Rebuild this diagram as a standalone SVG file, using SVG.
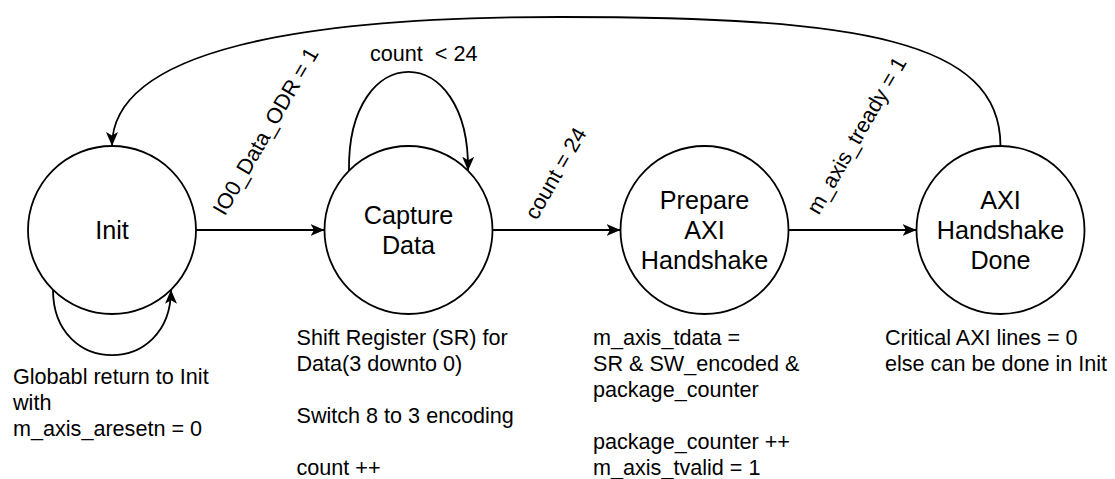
<svg xmlns="http://www.w3.org/2000/svg" width="1115" height="479" viewBox="0 0 1115 479">
<defs>
<marker id="arrow" markerUnits="userSpaceOnUse" markerWidth="16" markerHeight="14" refX="14" refY="6.5" orient="auto" viewBox="0 0 16 14">
<path d="M0,0.5 L14,6.5 L0,12.5 L3.5,6.5 Z" fill="#000"/>
</marker>
<style>
.state{fill:#fff;stroke:#000;stroke-width:1.8}
.st{font-family:"Liberation Sans",Arial,Helvetica,sans-serif;font-size:25.2px;fill:#000;text-anchor:middle}
.lbl{font-family:"Liberation Sans",Arial,Helvetica,sans-serif;font-size:21.6px;fill:#000}
.mid{text-anchor:middle}
.edge{fill:none;stroke:#000;stroke-width:1.8;marker-end:url(#arrow)}
</style>
</defs>
<rect width="1115" height="479" fill="#fff"/>

<g id="node-init">
<circle class="state" cx="112" cy="230" r="84"/>
<text class="st" x="112" y="239">Init</text>
</g>
<g id="node-capture">
<circle class="state" cx="408.5" cy="230" r="84"/>
<text class="st" x="408.5" y="224">Capture</text>
<text class="st" x="408.5" y="254">Data</text>
</g>
<g id="node-prepare">
<circle class="state" cx="704.5" cy="230" r="84"/>
<text class="st" x="704.5" y="209">Prepare</text>
<text class="st" x="704.5" y="239">AXI</text>
<text class="st" x="704.5" y="269">Handshake</text>
</g>
<g id="node-done">
<circle class="state" cx="1000.5" cy="230" r="84"/>
<text class="st" x="1000.5" y="209">AXI</text>
<text class="st" x="1000.5" y="239">Handshake</text>
<text class="st" x="1000.5" y="269">Done</text>
</g>

<g id="connectors">
<path class="edge" d="M196,230 L324.5,230"/>
<path class="edge" d="M492.5,230 L620.5,230"/>
<path class="edge" d="M788.5,230 L916.5,230"/>
<path class="edge" d="M349,170.7 C347,39 470,39 468,170.7"/>
<path class="edge" d="M53,289.8 C53,377 171,377 171,289.8"/>
<path class="edge" d="M1000.5,146 C1000.5,40 860,17 560,17 C300,17 112,50 112,146"/>
</g>

<g id="edge-labels">
<text class="lbl mid" transform="translate(272,135) rotate(-60)">IO0_Data_ODR = 1</text>
<text class="lbl mid" transform="translate(562,177) rotate(-60)">count = 24</text>
<text class="lbl mid" transform="translate(863,139) rotate(-60)">m_axis_tready = 1</text>
<text class="lbl" x="370" y="61" xml:space="preserve">count  &lt; 24</text>
</g>

<g id="notes">
<text class="lbl" x="13" y="384">Globabl return to Init</text>
<text class="lbl" x="13" y="410">with</text>
<text class="lbl" x="13" y="436">m_axis_aresetn = 0</text>

<text class="lbl" x="296.5" y="345">Shift Register (SR) for</text>
<text class="lbl" x="296.5" y="371">Data(3 downto 0)</text>
<text class="lbl" x="296.5" y="423">Switch 8 to 3 encoding</text>
<text class="lbl" x="296.5" y="475">count ++</text>

<text class="lbl" x="593" y="345">m_axis_tdata =</text>
<text class="lbl" x="593" y="371">SR &amp; SW_encoded &amp;</text>
<text class="lbl" x="593" y="397">package_counter</text>
<text class="lbl" x="593" y="449">package_counter ++</text>
<text class="lbl" x="593" y="475">m_axis_tvalid = 1</text>

<text class="lbl" x="885" y="345">Critical AXI lines = 0</text>
<text class="lbl" x="885" y="371">else can be done in Init</text>
</g>
</svg>
